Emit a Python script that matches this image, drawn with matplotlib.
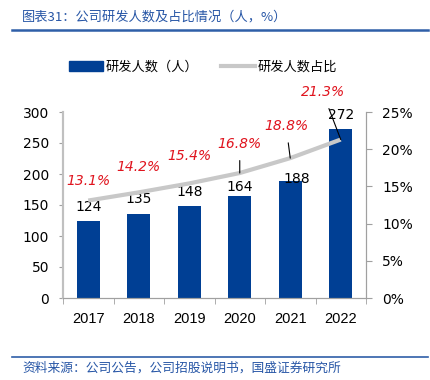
import matplotlib
matplotlib.use("Agg")
import matplotlib.pyplot as plt
from matplotlib.lines import Line2D
from matplotlib.patches import Patch
import numpy as np

plt.rcParams['font.family'] = ['DejaVu Sans', 'Noto Sans CJK SC']

years = ["2017", "2018", "2019", "2020", "2021", "2022"]
staff = [124, 135, 148, 164, 188, 272]
share = [13.1, 14.2, 15.4, 16.8, 18.8, 21.3]
left_ticks = [0, 50, 100, 150, 200, 250, 300]
right_ticks = [0, 5, 10, 15, 20, 25]

title = "图表31：公司研发人数及占比情况（人，%）"
source = "资料来源：公司公告，公司招股说明书，国盛证券研究所"
bar_label = "研发人数（人）"
line_label = "研发人数占比"

BAR = "#003F94"
LINE = "#C8C8C8"
RED = "#E0141E"
BLUE_TXT = "#2756A6"
W, H = 431, 380

fig = plt.figure(figsize=(W / 100, H / 100), dpi=100)
ax = fig.add_axes([63 / W, 1 - 298 / H, (366 - 63) / W, (298 - 112) / H])
ax2 = ax.twinx()

x = np.arange(len(years))
ax.bar(x, staff, width=0.46, color=BAR, zorder=2)
ax.set_xlim(-0.5, len(years) - 0.5)
ax.set_ylim(0, 300)
ax.set_yticks(left_ticks)
ax.set_xticks(x)
ax.set_xticklabels(years, family='Liberation Sans', fontsize=10.5)
ax.set_xticks(np.arange(-0.5, len(years)), minor=True)
ax.tick_params(axis='x', which='major', length=0, pad=10)
ax.tick_params(axis='x', which='minor', length=4, color="#A0A0A0", direction='out')
ax.tick_params(axis='y', length=3, color="#A0A0A0", pad=7, labelsize=10)

ax2.set_ylim(0, 25)
ax2.set_yticks(right_ticks)
ax2.set_yticklabels([f"{t}%" for t in right_ticks])
ax2.tick_params(axis='y', length=4, color="#A0A0A0", pad=7.5, labelsize=10)
ax2.plot(x, share, color=LINE, lw=3, solid_capstyle='butt', zorder=3)

for a in (ax, ax2):
    a.spines['top'].set_visible(False)
    for s in ('left', 'right', 'bottom'):
        a.spines[s].set_color("#A0A0A0")
    a.spines['left'].set_color("#C0C0C0")
    a.spines['left'].set_linewidth(1.5)

# bar value labels (offsets in points)
bar_offsets = [(0, 10), (0, 11), (0, 10), (0, 7), (5, 2), (0, 10)]
for xi, v, off in zip(x, staff, bar_offsets):
    ax.annotate(f"{v}", (xi, v), xytext=off, textcoords='offset points',
                ha='center', va='center', fontsize=10, color='black', zorder=5)

# percentage labels
pct_offsets = [(0, 14), (0, 18), (0, 20), (0, 21), (-3, 23), (-13, 34)]
leader = [False, False, False, True, True, True]
for xi, v, off, ld in zip(x, share, pct_offsets, leader):
    kw = dict(xytext=off, textcoords='offset points', ha='center', va='center',
              fontsize=10, color=RED, style='italic', zorder=6)
    if ld:
        kw['arrowprops'] = dict(arrowstyle='-', color='black', lw=0.8,
                                shrinkA=5, shrinkB=0)
    ax2.annotate(f"{v}%", (xi, v), **kw)

# legend
handles = [Patch(color=BAR), Line2D([0], [0], color=LINE, lw=3)]
fig.legend(handles, [bar_label, line_label], loc='center left', ncol=2,
           bbox_to_anchor=(69 / W, 1 - 67 / H), frameon=False,
           prop={'family': ['Noto Sans CJK SC'], 'size': 9.5},
           handlelength=2.6, handletextpad=0.2, columnspacing=1.7,
           handleheight=0.7, borderpad=0, borderaxespad=0)

# title, rules, source
fig.text(22 / W, 1 - 17 / H, title, fontsize=9.5, color=BLUE_TXT,
         family=['Noto Sans CJK SC', 'DejaVu Sans'], va='center', ha='left')
fig.add_artist(Line2D([12 / W, 428 / W], [1 - 30 / H, 1 - 30 / H],
                      color="#2F5FA8", lw=1.8, transform=fig.transFigure))
fig.add_artist(Line2D([12 / W, 428 / W], [1 - 357 / H, 1 - 357 / H],
                      color="#2F5FA8", lw=1.2, transform=fig.transFigure))
fig.text(22 / W, 1 - 368 / H, source, fontsize=9.2, color=BLUE_TXT,
         family=['Noto Sans CJK SC', 'DejaVu Sans'], va='center', ha='left')

fig.savefig("out.png", dpi=100)
